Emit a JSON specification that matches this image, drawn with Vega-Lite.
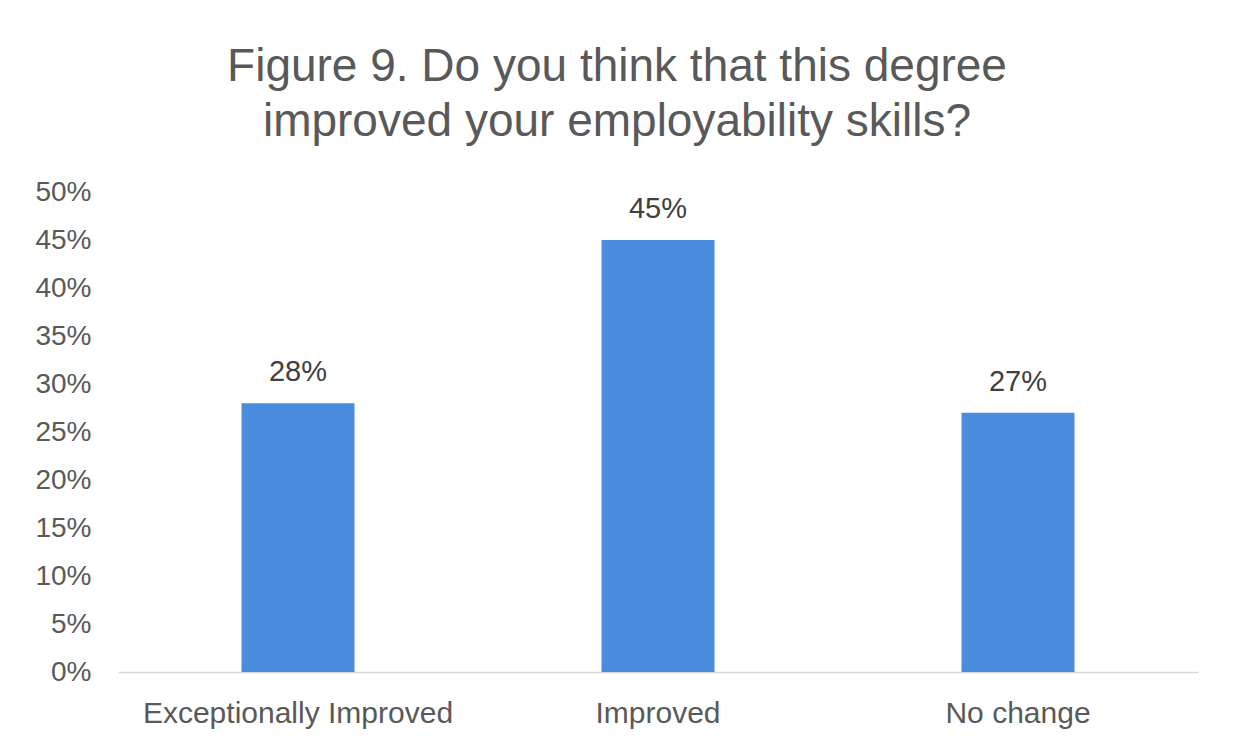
{
  "$schema": "https://vega.github.io/schema/vega-lite/v6.json",
  "autosize": "none",
  "width": 1080,
  "height": 480,
  "padding": {"left": 118, "top": 192, "right": 36, "bottom": 70},
  "background": "white",
  "config": {
    "font": "Liberation Sans",
    "view": {"stroke": null}
  },
  "title": {
    "text": ["Figure 9. Do you think that this degree", "improved your employability skills?"],
    "fontSize": 46,
    "fontWeight": "normal",
    "color": "#595959",
    "anchor": "middle",
    "dx": -41,
    "offset": 32,
    "lineHeight": 55
  },
  "data": {
    "values": [
      {"category": "Exceptionally Improved", "value": 0.28},
      {"category": "Improved", "value": 0.45},
      {"category": "No change", "value": 0.27}
    ]
  },
  "encoding": {
    "x": {
      "field": "category",
      "type": "nominal",
      "sort": null,
      "scale": {"paddingInner": 0, "paddingOuter": 0},
      "axis": {
        "title": null,
        "labelAngle": 0,
        "labelFontSize": 30,
        "labelColor": "#595959",
        "labelPadding": 26,
        "labelLimit": 400,
        "ticks": false,
        "domainColor": "#d9d9d9",
        "domainWidth": 1.5
      }
    },
    "y": {
      "field": "value",
      "type": "quantitative",
      "scale": {"domain": [0, 0.5], "nice": false},
      "axis": {
        "title": null,
        "values": [0, 0.05, 0.1, 0.15, 0.2, 0.25, 0.3, 0.35, 0.4, 0.45, 0.5],
        "format": ".0%",
        "labelFontSize": 28,
        "labelColor": "#595959",
        "labelPadding": 27,
        "ticks": false,
        "domain": false,
        "grid": false
      }
    }
  },
  "layer": [
    {"mark": {"type": "bar", "size": 113, "color": "#4a8ddf"}},
    {
      "mark": {"type": "text", "baseline": "alphabetic", "dy": -22, "fontSize": 29, "color": "#404040"},
      "encoding": {"text": {"field": "value", "type": "quantitative", "format": ".0%"}}
    }
  ]
}
